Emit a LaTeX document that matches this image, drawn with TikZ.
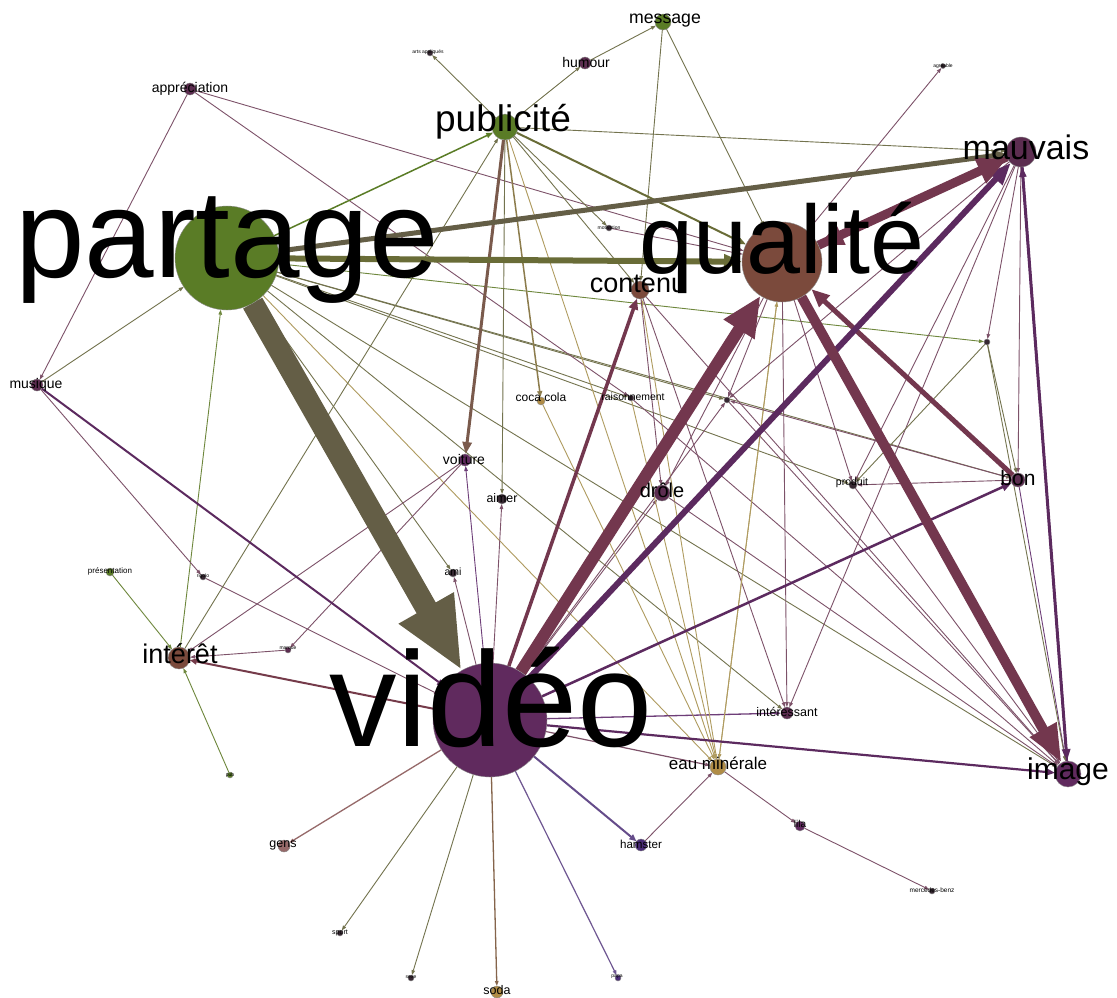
\documentclass[tikz,border=0pt]{standalone}
\usepackage{fontspec}
\setmainfont{Liberation Sans}
\usetikzlibrary{arrows.meta}
\pgfdeclarelayer{bg}
\pgfdeclarelayer{edges}
\pgfdeclarelayer{labels}
\pgfsetlayers{bg,edges,main,labels}
\definecolor{nGreen}{RGB}{90,124,38}
\definecolor{nBrown}{RGB}{123,74,60}
\definecolor{nPurple}{RGB}{96,42,94}
\definecolor{nMauve}{RGB}{92,45,80}
\definecolor{nTan}{RGB}{176,140,70}
\definecolor{nBlue}{RGB}{74,44,118}
\definecolor{nDark}{RGB}{55,40,50}
\definecolor{nPink}{RGB}{150,105,105}
\definecolor{eOlive}{RGB}{100,94,70}
\definecolor{eOliveG}{RGB}{105,108,55}
\definecolor{eMaroon}{RGB}{115,55,78}
\definecolor{eVio}{RGB}{92,42,95}
\definecolor{eBrown}{RGB}{122,90,76}
\definecolor{cTa}{RGB}{125,82,105}
\definecolor{cTb}{RGB}{115,115,78}
\definecolor{cTc}{RGB}{175,155,95}
\definecolor{cTd}{RGB}{110,62,120}
\definecolor{cTe}{RGB}{110,135,60}
\newcommand\gnode[5]{\node[nd,minimum size=#4pt,fill=#5] (#1) at (#2,#3) {};}
\newcommand\glab[5]{\node[lb,font=\fontsize{#4}{#4}\selectfont] (L#1) at (#2,#3) {#5};}
\newcommand\myedge[3][]{\draw[ed,#1] (#2) -- (#3);}
\begin{document}
\begin{tikzpicture}[x=1pt,y=-1pt,
  nd/.style={circle,inner sep=0pt,outer sep=0pt,draw=black!45,line width=0.4pt},
  lb/.style={inner sep=0pt,outer sep=0pt,text=black},
  ed/.style={line width=0.9pt,cTa,-{Triangle[length=5pt,width=3.5pt]}}]
\begin{pgfonlayer}{bg}
\fill[white] (0,0) rectangle (1117,997);
\end{pgfonlayer}
\useasboundingbox (0,0) rectangle (1117,997);
% nodes
\gnode{partage}{227}{258}{104}{nGreen}
\gnode{qualite}{782}{262}{80}{nBrown}
\gnode{video}{490}{720}{114}{nPurple}
\gnode{publicite}{505}{127}{26}{nGreen}
\gnode{mauvais}{1021}{152}{30}{nMauve}
\gnode{image}{1068}{774}{26}{nPurple}
\gnode{interet}{179}{658}{22}{nBrown}
\gnode{contenu}{640}{290}{18}{nBrown}
\gnode{eaumin}{718}{767}{16}{nTan}
\gnode{message}{663}{22}{16}{nGreen}
\gnode{humour}{585}{63}{12}{nMauve}
\gnode{artsapp}{430}{53}{6}{nDark}
\gnode{appreciation}{190}{89}{12}{nMauve}
\gnode{musique}{37}{385}{12}{nMauve}
\gnode{agreable}{943}{66}{5}{nDark}
\gnode{presentation}{110}{572}{8}{nGreen}
\gnode{rigolo}{203}{577}{6}{nDark}
\gnode{marque}{288}{650}{6}{nMauve}
\gnode{pub}{230}{775}{6}{nGreen}
\gnode{voiture}{465}{460}{12}{nPurple}
\gnode{aimer}{502}{499}{10}{nDark}
\gnode{ami}{453}{573}{8}{nDark}
\gnode{cocacola}{541}{401}{8}{nTan}
\gnode{raisonnement}{631}{398}{6}{nDark}
\gnode{drole}{662}{493}{16}{nMauve}
\gnode{produit}{853}{485}{8}{nDark}
\gnode{dota}{987}{342}{6}{nDark}
\gnode{dotb}{727}{400}{6}{nDark}
\gnode{bon}{1018}{480}{14}{nMauve}
\gnode{interessant}{787}{713}{12}{nMauve}
\gnode{lila}{800}{826}{10}{nPurple}
\gnode{mercedes}{932}{891}{6}{nDark}
\gnode{gens}{284}{846}{12}{nPink}
\gnode{sport}{340}{933}{6}{nDark}
\gnode{sexe}{411}{978}{6}{nDark}
\gnode{soda}{497}{992}{12}{nTan}
\gnode{papa}{618}{978}{6}{nBlue}
\gnode{hamster}{641}{845}{12}{nBlue}
\gnode{motivation}{609}{228}{6}{nDark}
% edges
\begin{pgfonlayer}{edges}
\myedge[cTb]{partage}{ami}
\myedge[cTb]{partage}{dotb}
\myedge[cTe]{partage}{dota}
\myedge[cTb]{partage}{produit}
\myedge[cTb]{partage}{bon}
\myedge[cTb]{partage}{image}
\myedge[cTb]{partage}{interessant}
\myedge[cTc]{partage}{eaumin}
\myedge[cTb]{partage}{raisonnement}
\myedge[cTb]{musique}{partage}
\myedge[cTe]{interet}{partage}
\myedge{appreciation}{musique}
\myedge{appreciation}{qualite}
\myedge{appreciation}{raisonnement}
\myedge{musique}{rigolo}
\myedge{rigolo}{video}
\myedge[cTb]{interet}{publicite}
\myedge[cTe]{presentation}{interet}
\myedge[cTe]{pub}{interet}
\myedge{marque}{interet}
\myedge{voiture}{interet}
\myedge{voiture}{marque}
\myedge[cTd]{video}{voiture}
\myedge[cTb]{publicite}{aimer}
\myedge{video}{aimer}
\myedge{video}{ami}
\myedge[cTb]{publicite}{humour}
\myedge[cTb]{humour}{message}
\myedge[cTb]{publicite}{artsapp}
\myedge[cTb]{publicite}{mauvais}
\myedge[cTb]{publicite}{contenu}
\myedge[cTb]{publicite}{motivation}
\myedge[cTc]{publicite}{eaumin}
\myedge[cTb]{message}{contenu}
\myedge[cTb]{message}{qualite}
\myedge{motivation}{qualite}
\myedge{qualite}{agreable}
\myedge[line width=1.3pt,nPink]{video}{gens}
\myedge[cTb]{video}{sport}
\myedge[cTb]{video}{sexe}
\myedge[line width=1.3pt,eBrown!80!nTan]{video}{soda}
\myedge[line width=1.2pt,nBlue!80]{video}{papa}
\myedge[line width=1.2pt]{video}{eaumin}
\myedge[line width=1.3pt,cTd]{video}{interessant}
\myedge{video}{drole}
\myedge{video}{dotb}
\myedge{hamster}{eaumin}
\myedge{eaumin}{lila}
\myedge{lila}{mercedes}
\myedge[cTc]{cocacola}{eaumin}
\myedge[cTc]{eaumin}{contenu}
\myedge[cTc]{eaumin}{qualite}
\myedge[cTc]{raisonnement}{eaumin}
\myedge{contenu}{image}
\myedge{contenu}{drole}
\myedge{contenu}{interessant}
\myedge{raisonnement}{image}
\myedge{dotb}{image}
\myedge{qualite}{produit}
\myedge{qualite}{interessant}
\myedge{qualite}{drole}
\myedge{qualite}{dotb}
\myedge[cTc]{qualite}{eaumin}
\myedge{mauvais}{bon}
\myedge{mauvais}{produit}
\myedge{mauvais}{dota}
\myedge{mauvais}{dotb}
\myedge{mauvais}{interessant}
\myedge{bon}{produit}
\myedge{bon}{dotb}
\myedge[cTd]{bon}{image}
\myedge[cTb]{dota}{bon}
\myedge[cTb]{dota}{produit}
\myedge[cTb]{dota}{image}
\myedge{drole}{image}
\myedge{produit}{image}
% medium edges
\draw[line width=3pt,eBrown,-{Triangle[length=12pt,width=9pt]}] (publicite) -- (voiture);
\draw[line width=1.5pt,cTc!80!black,-{Triangle[length=6pt,width=5pt]}] (publicite) -- (cocacola);
\draw[line width=2pt,eOliveG,-{Triangle[length=8pt,width=6pt]}] (publicite) -- (qualite);
\draw[line width=1.5pt,nGreen,-{Triangle[length=7pt,width=5pt]}] (partage) -- (publicite);
\draw[line width=2pt,nBlue!85,-{Triangle[length=7pt,width=6pt]}] (video) -- (hamster);
\draw[line width=2pt,eMaroon!80!nBrown,-{Triangle[length=7pt,width=6pt]}] (video) -- (interet);
\draw[line width=2pt,eVio,-{Triangle[length=7pt,width=6pt]}] (musique) -- (video);
\draw[line width=2.2pt,eVio,-{Triangle[length=9pt,width=7pt]}] (video) -- (image);
\draw[line width=2.5pt,eVio,-{Triangle[length=10pt,width=8pt]}] (video) -- (bon);
\draw[line width=3.5pt,eMaroon,-{Triangle[length=11pt,width=9pt]}] (video) -- (contenu);
\draw[line width=3pt,eVio,-{Triangle[length=12pt,width=8pt]}] (mauvais) -- (image);
\draw[line width=2pt,eVio,-{Triangle[length=10pt,width=7pt]}] (image) -- (mauvais);
% thick edges
\draw[line width=5pt,eMaroon,-{Triangle[length=18pt,width=15pt]}] (bon) -- (qualite);
\draw[line width=6pt,eVio,-{Triangle[length=22pt,width=17pt]}] (video) -- (mauvais);
\draw[line width=5pt,eOlive,-{Triangle[length=14pt,width=12pt]}] (partage) -- (mauvais);
\draw[line width=6pt,eOliveG,-{Triangle[length=18pt,width=14pt]}] (partage) -- (qualite);
\draw[line width=6pt,eMaroon,-{Triangle[length=25pt,width=20pt]}] (mauvais) -- (qualite);
\draw[line width=9pt,eMaroon,-{Triangle[length=30pt,width=26pt]}] (qualite) -- (mauvais);
\draw[line width=10pt,eMaroon,-{Triangle[length=38pt,width=28pt]}] (qualite) -- (image);
\draw[line width=12pt,eMaroon,-{Triangle[length=40pt,width=34pt]}] (video) -- (qualite);
\draw[line width=22pt,eOlive,-{Triangle[length=72pt,width=58pt]}] (partage) -- (video);
\end{pgfonlayer}
% labels
\begin{pgfonlayer}{labels}
\glab{partage}{227}{250}{125}{partage}
\glab{qualite}{782}{248}{97}{qualité}
\glab{video}{491}{697}{135}{vidéo}
\glab{publicite}{503}{122}{37}{publicité}
\glab{mauvais}{1026}{147}{34}{mauvais}
\glab{image}{1068}{772}{30}{image}
\glab{interet}{180}{654}{27}{intérêt}
\glab{contenu}{638}{284}{27}{contenu}
\glab{eaumin}{718}{763}{17}{eau minérale}
\glab{message}{665}{21}{17.7}{message}
\glab{appreciation}{190}{89}{14}{appréciation}
\glab{humour}{586}{62}{14}{humour}
\glab{musique}{36}{385}{14}{musique}
\glab{bon}{1018}{478}{21}{bon}
\glab{drole}{662}{490}{20}{drôle}
\glab{voiture}{464}{459}{14}{voiture}
\glab{aimer}{502}{498}{12.4}{aimer}
\glab{cocacola}{541}{397}{12}{coca cola}
\glab{raisonnement}{633}{397}{10.4}{raisonnement}
\glab{produit}{852}{483}{10.5}{produit}
\glab{interessant}{787}{712}{12.5}{intéressant}
\glab{gens}{283}{845}{12.5}{gens}
\glab{hamster}{641}{844}{11.6}{hamster}
\glab{soda}{497}{990}{12.5}{soda}
\glab{ami}{453}{572}{10.5}{ami}
\glab{presentation}{110}{571}{8}{présentation}
\glab{lila}{800}{824}{10}{lila}
\glab{mercedes}{932}{890}{6.5}{mercedes-benz}
\glab{sport}{340}{933}{7}{sport}
\glab{artsapp}{428}{52}{5}{arts appliqués}
\glab{agreable}{943}{66}{5}{agréable}
\glab{motivation}{609}{228}{5}{motivation}
\glab{rigolo}{203}{576}{5}{rigolo}
\glab{marque}{288}{649}{5}{marque}
\glab{pub}{230}{775}{5}{pub}
\glab{sexe}{411}{977}{5}{sexe}
\glab{papa}{617}{977}{5}{papa}
\end{pgfonlayer}
\end{tikzpicture}
\end{document}
